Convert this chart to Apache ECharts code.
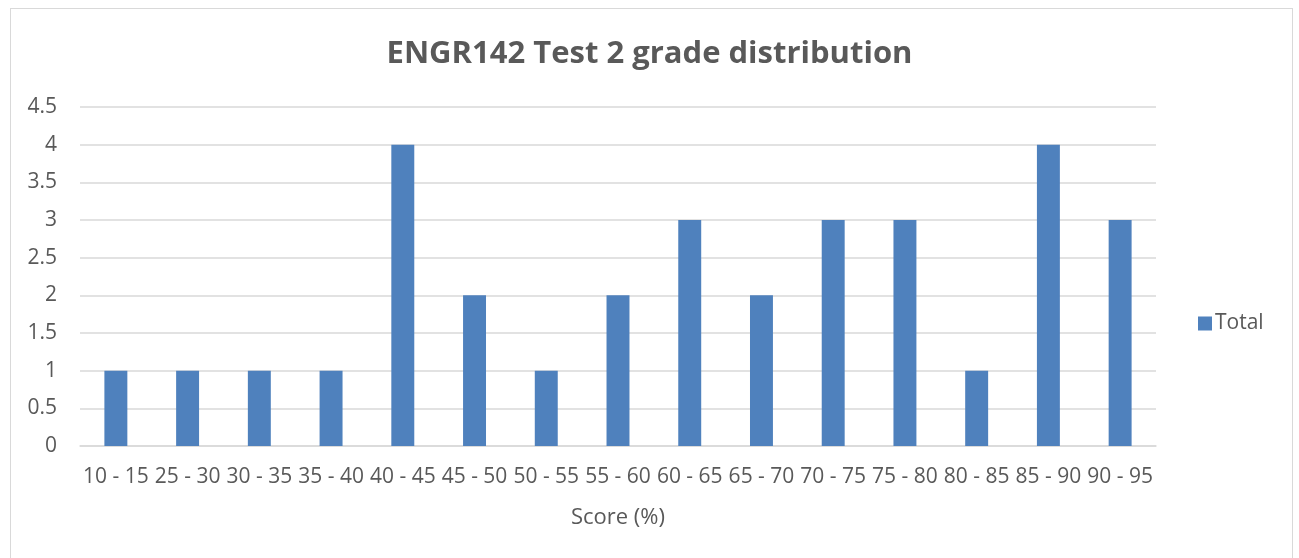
<!DOCTYPE html>
<html>
<head>
<meta charset="utf-8">
<script src="https://cdn.jsdelivr.net/npm/echarts@6/dist/echarts.min.js"></script>
<style>
  html, body { margin: 0; padding: 0; background: #fff; }
  #frame { position: absolute; left: 10px; top: 8px; width: 1283px; height: 560px; border: 1px solid #d9d9d9; box-sizing: border-box; }
  #chart { width: 1299px; height: 558px; }
</style>
</head>
<body>
<div id="frame"></div>
<div id="chart"></div>
<script>
  var categories = ['10 - 15', '25 - 30', '30 - 35', '35 - 40', '40 - 45', '45 - 50', '50 - 55', '55 - 60',
                    '60 - 65', '65 - 70', '70 - 75', '75 - 80', '80 - 85', '85 - 90', '90 - 95']
  var totals = [1, 1, 1, 1, 4, 2, 1, 2, 3, 2, 3, 3, 1, 4, 3]
  var yTicks = { min: 0, max: 4.5, interval: 0.5 }

  var font = 'Open Sans'
  var chart = echarts.init(document.getElementById('chart'))
  var option = {
    animation: false,
    title: {
      text: 'ENGR142 Test 2 grade distribution',
      left: 'center',
      top: 34,
      textStyle: { fontFamily: font, fontSize: 31, fontWeight: 'bold', color: '#595959' }
    },
    legend: {
      data: ['Total'],
      orient: 'vertical',
      left: 1193,
      top: 308,
      icon: 'rect',
      itemWidth: 14,
      itemHeight: 14,
      itemGap: 5,
      textStyle: { fontFamily: font, fontSize: 21, color: '#595959', padding: [0, 0, 0, -2] }
    },
    grid: { left: 80, right: 143, top: 107, bottom: 112 },
    xAxis: {
      type: 'category',
      data: categories,
      name: 'Score (%)',
      nameLocation: 'middle',
      nameGap: 61,
      nameTextStyle: { fontFamily: font, fontSize: 22, color: '#595959' },
      axisLine: { lineStyle: { color: '#d9d9d9', width: 1.5 } },
      axisTick: { show: false },
      axisLabel: { interval: 0, margin: 21, fontFamily: font, fontSize: 21, color: '#595959' }
    },
    yAxis: {
      type: 'value',
      min: yTicks.min,
      max: yTicks.max,
      interval: yTicks.interval,
      axisLine: { show: false },
      axisTick: { show: false },
      axisLabel: { margin: 23, fontFamily: font, fontSize: 21, color: '#595959' },
      splitLine: { lineStyle: { color: '#d9d9d9', width: 1.5 } }
    },
    series: [{
      name: 'Total',
      type: 'bar',
      data: totals,
      barWidth: '32%',
      itemStyle: { color: '#4f81bd' }
    }]
  }
  chart.setOption(option)
</script>
</body>
</html>
